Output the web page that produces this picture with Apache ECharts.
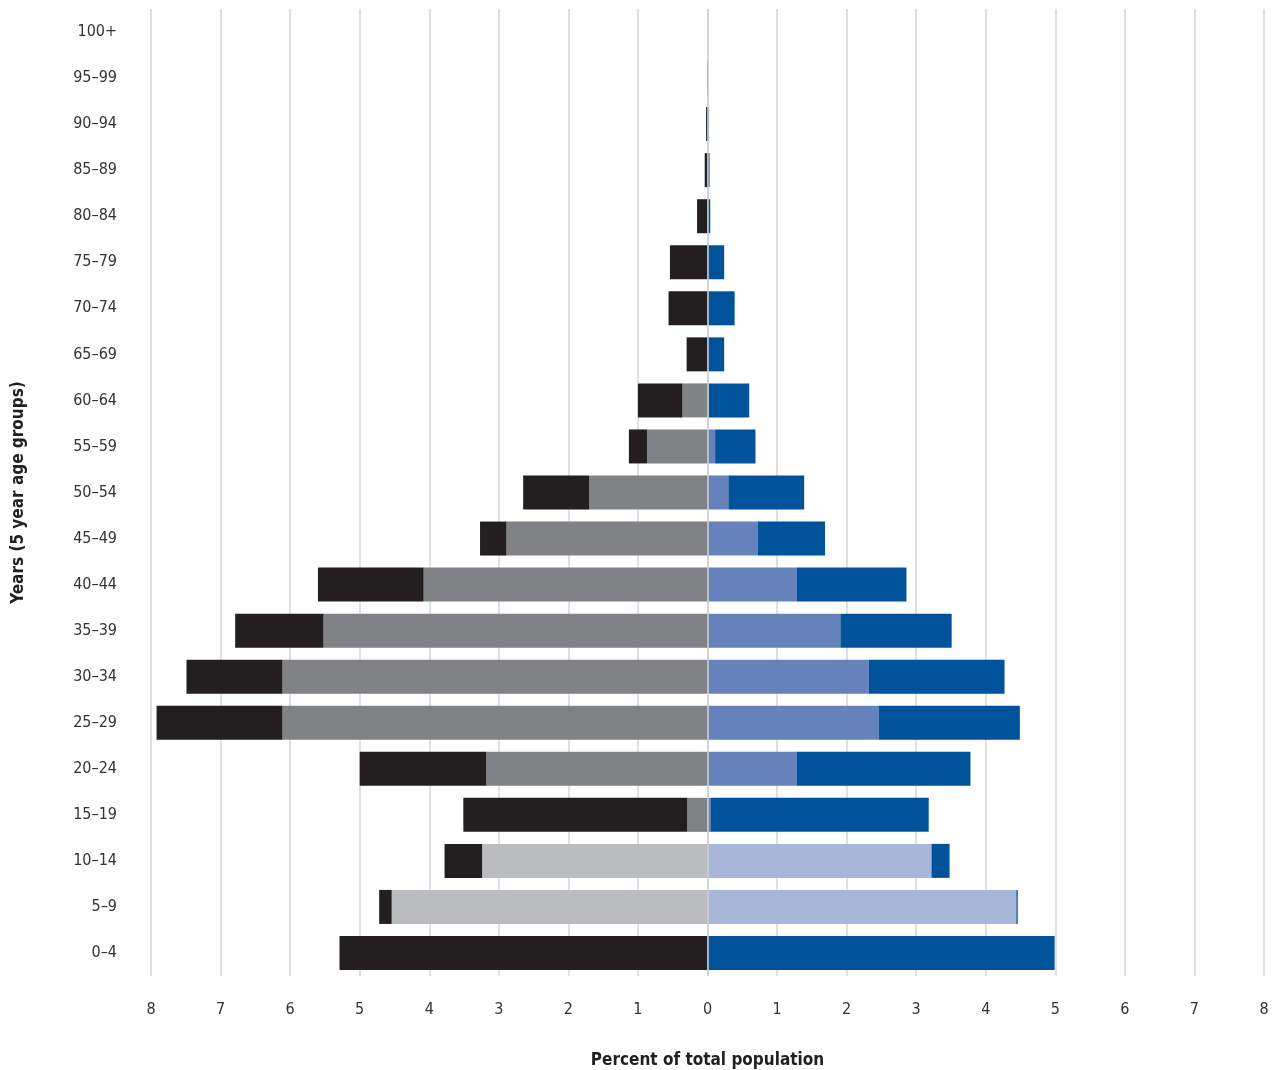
<!DOCTYPE html>
<html>
<head>
<meta charset="utf-8">
<script src="https://cdn.jsdelivr.net/npm/echarts@6/dist/echarts.min.js"></script>
<style>html,body{margin:0;padding:0;background:#fff}#chart{width:1278px;height:1070px}</style>
</head>
<body>
<div id="chart"></div>
<script>
// Categories, bottom to top
var ageGroups = ['0–4','5–9','10–14','15–19','20–24','25–29','30–34','35–39','40–44','45–49','50–54','55–59','60–64','65–69','70–74','75–79','80–84','85–89','90–94','95–99','100+'];
var xTicks = [-8,-7,-6,-5,-4,-3,-2,-1,0,1,2,3,4,5,6,7,8];

// Left side segments (percent, shown to the left)
var leftLightGray = [0, 4.54, 3.24, 0, 0, 0, 0, 0, 0, 0, 0, 0, 0, 0, 0, 0, 0, 0, 0, 0, 0];
var leftGray      = [0, 0, 0, 0.29, 3.18, 6.11, 6.11, 5.52, 4.08, 2.89, 1.70, 0.87, 0.36, 0, 0, 0, 0, 0, 0, 0, 0];
var leftBlack     = [5.29, 0.18, 0.54, 3.22, 1.82, 1.81, 1.38, 1.27, 1.52, 0.38, 0.95, 0.26, 0.64, 0.30, 0.56, 0.54, 0.15, 0.04, 0.02, 0.005, 0];

// Right side segments
var rightLightBlue = [0, 4.44, 3.22, 0, 0, 0, 0, 0, 0, 0, 0, 0, 0, 0, 0, 0, 0, 0, 0, 0, 0];
var rightMidBlue   = [0, 0, 0, 0.05, 1.28, 2.46, 2.32, 1.91, 1.28, 0.72, 0.30, 0.11, 0.02, 0, 0, 0, 0, 0, 0, 0, 0];
var rightBlue      = [4.99, 0.02, 0.26, 3.13, 2.50, 2.03, 1.95, 1.60, 1.58, 0.97, 1.09, 0.58, 0.58, 0.24, 0.39, 0.24, 0.04, 0.03, 0.02, 0.005, 0];

var FONT = "'Liberation Sans Narrow', 'DejaVu Sans Condensed', 'Liberation Sans', sans-serif";
function neg(a){ return a.map(function(v){ return -v; }); }

var chart = echarts.init(document.getElementById('chart'), null, {renderer:'canvas'});
var barW = 34;
function bar(name, data, stack, color, extra){
  var s = {name:name, type:'bar', stack:stack, data:data, barWidth:barW, barGap:'-100%',
    itemStyle:{color:color}, silent:true, animation:false};
  if (extra) for (var k in extra) s[k] = extra[k];
  return s;
}
chart.setOption({
  animation:false,
  textStyle:{fontFamily:FONT},
  grid:{left:151, right:14, top:9, bottom:94, containLabel:false, outerBoundsMode:'none'},
  xAxis:{
    type:'value', min:-8, max:8, interval:1,
    axisLine:{show:false}, axisTick:{show:false},
    splitLine:{show:true, lineStyle:{color:'#d6d6d8', width:1.5}},
    axisLabel:{fontFamily:FONT, fontSize:16, color:'#333', margin:26,
      formatter:function(v){ return String(Math.abs(v)); }},
    name:'Percent of total population', nameLocation:'middle', nameGap:76,
    nameTextStyle:{fontFamily:FONT, fontSize:17, fontWeight:'bold', color:'#231f20'}
  },
  yAxis:{
    type:'category', data:ageGroups,
    axisLine:{show:false}, axisTick:{show:false},
    axisLabel:{fontFamily:FONT, fontSize:16, color:'#333', margin:34, padding:[4,0,0,0]},
    name:'Years (5 year age groups)', nameLocation:'middle', nameGap:124, nameRotate:90,
    nameTextStyle:{fontFamily:FONT, fontSize:17, fontWeight:'bold', color:'#231f20'}
  },
  series:[
    bar('leftLightGray', neg(leftLightGray), 'L', '#bbbcbf'),
    bar('leftGray', neg(leftGray), 'L', '#818286'),
    bar('leftBlack', neg(leftBlack), 'L', '#231f20'),
    bar('rightLightBlue', rightLightBlue, 'R', '#a8b6d9'),
    bar('rightMidBlue', rightMidBlue, 'R', '#6682bb'),
    bar('rightBlue', rightBlue, 'R', '#00529b', {
      markLine:{silent:true, symbol:'none', label:{show:false}, z:10,
        lineStyle:{color:'#cfd0d4', width:1.5, type:'solid'},
        data:[{xAxis:0}]}
    })
  ]
});
</script>
</body>
</html>
